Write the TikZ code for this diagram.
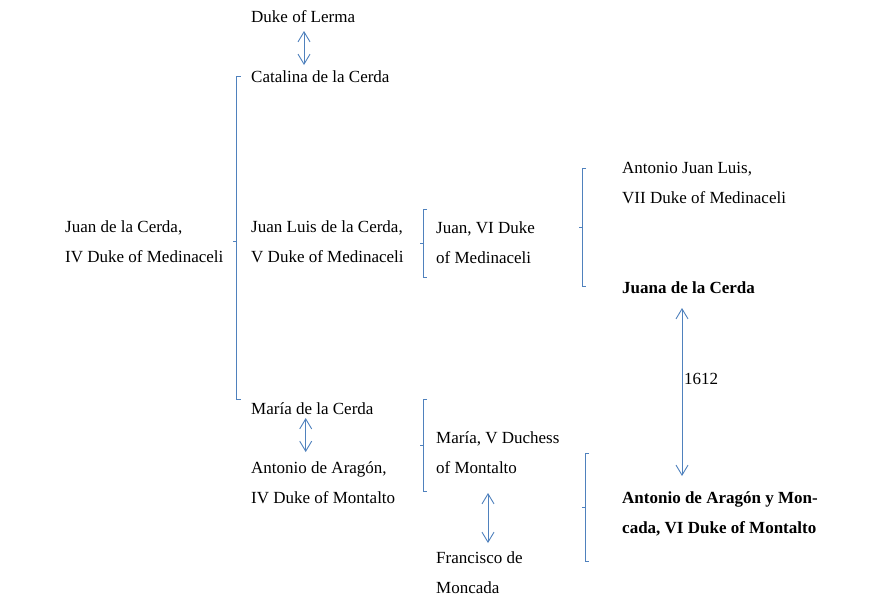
\documentclass[tikz,border=0pt]{standalone}
\usepackage{fontspec}
\setmainfont{Liberation Serif}
\usetikzlibrary{arrows.meta}
\definecolor{linkblue}{RGB}{79,129,189}
\newcommand{\twolines}[2]{\begin{tabular}[t]{@{}l@{}}#1\\#2\end{tabular}}
\begin{document}
\begin{tikzpicture}[x=1pt,y=-1pt,
  person/.style={anchor=base west,inner sep=0pt,font=\fontsize{17}{30}\selectfont},
  boldperson/.style={person,font=\fontsize{17}{30}\selectfont\bfseries},
  brk/.style={draw=linkblue,line width=0.9pt},
  dbl/.style={draw=linkblue,line width=0.9pt,{Straight Barb[length=10pt,width=12pt]}-{Straight Barb[length=10pt,width=12pt]}}]
\useasboundingbox[fill=white] (0,0) rectangle (894,614);

% people
\node[person] (lerma) at (251,22) {Duke of Lerma};
\node[person] (catalina) at (251,82) {Catalina de la Cerda};
\node[person] (juan4) at (65,232) {\twolines{Juan de la Cerda,}{IV Duke of Medinaceli}};
\node[person] (juanluis) at (251,232) {\twolines{Juan Luis de la Cerda,}{V Duke of Medinaceli}};
\node[person] (juan6) at (436,233) {\twolines{Juan, VI Duke}{of Medinaceli}};
\node[person] (antoniojl) at (622,173) {\twolines{Antonio Juan Luis,}{VII Duke of Medinaceli}};
\node[boldperson] (juana) at (622,293) {Juana de la Cerda};
\node[person] (maria) at (251,414) {María de la Cerda};
\node[person] (antonio4) at (251,473) {\twolines{Antonio de Aragón,}{IV Duke of Montalto}};
\node[person] (maria5) at (436,443) {\twolines{María, V Duchess}{of Montalto}};
\node[person] (francisco) at (436,563) {\twolines{Francisco de}{Moncada}};
\node[boldperson] (antonio6) at (622,503) {\twolines{Antonio de Aragón y Mon-}{cada, VI Duke of Montalto}};
\node[person] (year) at (684,384) {1612};

% brackets
\draw[brk] (240.5,76) -- (236.7,76) -- (236.7,399) -- (240.5,399) (236.7,241) -- (233,241);
\draw[brk] (427,209) -- (423.5,209) -- (423.5,277) -- (427,277) (423.5,243) -- (420,243);
\draw[brk] (586,168) -- (582.7,168) -- (582.7,286) -- (586,286) (582.7,227) -- (579,227);
\draw[brk] (427,399) -- (423.3,399) -- (423.3,491) -- (427,491) (423.3,445) -- (420,445);
\draw[brk] (589,453) -- (585.7,453) -- (585.7,561) -- (589,561) (585.7,507) -- (582,507);

% marriages
\draw[dbl] ([xshift=53pt,yshift=-9pt]lerma.base west) -- ([xshift=53pt,yshift=17pt]catalina.base west);
\draw[dbl] ([xshift=54.7pt,yshift=-4pt]maria.base west) -- ([xshift=54.7pt,yshift=21pt]antonio4.base west);
\draw[dbl] ([xshift=52pt,yshift=-50pt]maria5.base west) -- ([xshift=52pt,yshift=20pt]francisco.base west);
\draw[dbl] ([xshift=60pt,yshift=-15pt]juana.base west) -- ([xshift=60pt,yshift=27pt]antonio6.base west);
\end{tikzpicture}
\end{document}
